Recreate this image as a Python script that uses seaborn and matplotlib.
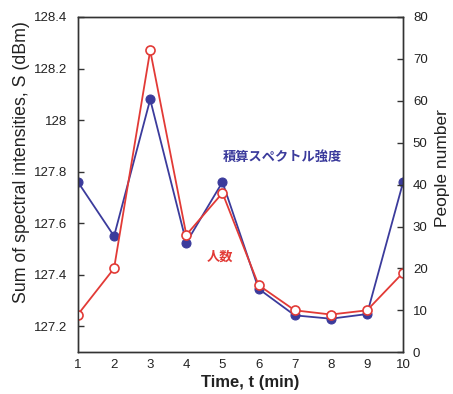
import matplotlib
matplotlib.use("Agg")
import matplotlib.pyplot as plt
import seaborn as sns
import pandas as pd

time_min = [1, 2, 3, 4, 5, 6, 7, 8, 9, 10]
spectral_dbm = [127.76, 127.55, 128.08, 127.525, 127.76, 127.346, 127.243, 127.23, 127.248, 127.76]
people = [9, 20, 72, 28, 38, 16, 10, 9, 10, 19]
left_ticks = [127.2, 127.4, 127.6, 127.8, 128.0, 128.2, 128.4]
left_ticklabels = ["127.2", "127.4", "127.6", "127.8", "128", "128.2", "128.4"]
right_ticks = [0, 10, 20, 30, 40, 50, 60, 70, 80]

sns.set_theme(style="white")
plt.rcParams['font.family'] = ['Liberation Sans', 'Noto Sans CJK JP', 'DejaVu Sans']

blue = "#3b3b9c"
red = "#e23a36"

df = pd.DataFrame({"t": time_min, "S": spectral_dbm, "P": people})

fig = plt.figure(figsize=(4.53, 3.94), dpi=100)
ax = fig.add_axes([0.172, 0.106, 0.718, 0.851])
ax2 = ax.twinx()

sns.lineplot(data=df, x="t", y="S", ax=ax, color=blue, marker="o", markersize=6.5,
             markerfacecolor=blue, markeredgecolor=blue, linewidth=1.3)
sns.lineplot(data=df, x="t", y="P", ax=ax2, color=red, marker="o", markersize=6.5,
             markerfacecolor="white", markeredgecolor=red, markeredgewidth=1.2, linewidth=1.3)

ax.set_xlim(1, 10)
ax.set_ylim(127.1, 128.4)
ax2.set_ylim(0, 80)
ax.set_xticks(time_min)
ax.set_yticks(left_ticks)
ax.set_yticklabels(left_ticklabels)
ax2.set_yticks(right_ticks)

for a in (ax, ax2):
    for s in a.spines.values():
        s.set_color("#333333")
        s.set_linewidth(1.0)
    a.tick_params(direction="in", length=4, width=1, colors="#333333",
                  labelsize=9.5, labelcolor="#222222")
ax.tick_params(axis="x", pad=5)
ax.tick_params(axis="y", pad=8)
ax2.tick_params(axis="y", pad=7)

ax.set_xlabel("Time, t (min)", fontsize=12, fontweight="bold", color="#222222")
ax.set_ylabel("Sum of spectral intensities, S (dBm)", fontsize=12.8, color="#222222")
ax2.set_ylabel("People number", fontsize=12.5, color="#222222")
ax.xaxis.set_label_coords(0.529, -0.069)
ax.yaxis.set_label_coords(-0.148, 0.567)
ax2.yaxis.set_label_coords(1.098, 0.549)

ax.text(5.0, 127.856, "積算スペクトル強度", color=blue, fontsize=9.5, fontweight="bold",
        family=['Noto Sans CJK JP', 'DejaVu Sans'], ha="left", va="center")
ax2.text(4.57, 22.8, "人数", color=red, fontsize=9.5, fontweight="bold",
         family=['Noto Sans CJK JP', 'DejaVu Sans'], ha="left", va="center")

fig.savefig("out.png", dpi=100)
